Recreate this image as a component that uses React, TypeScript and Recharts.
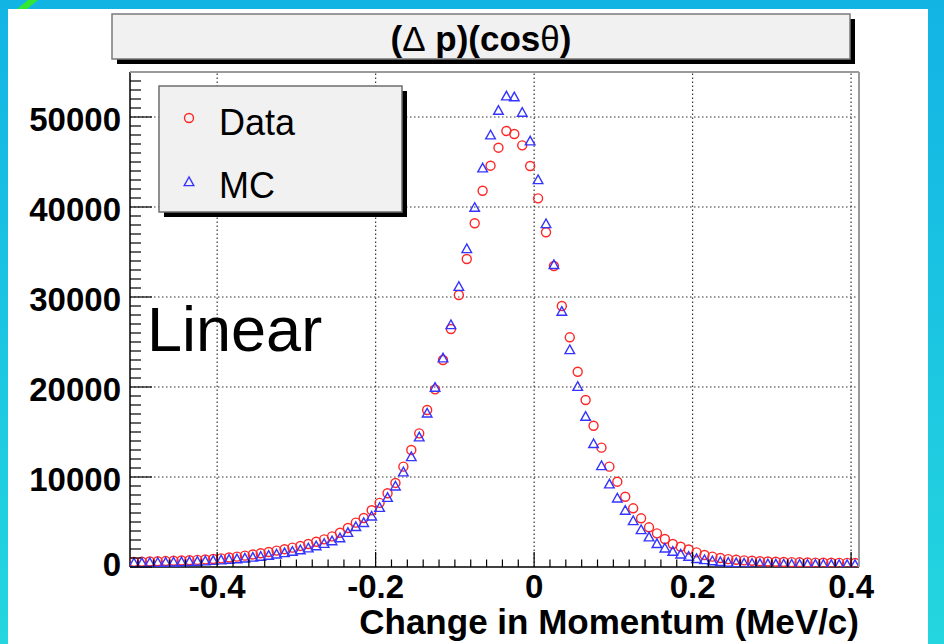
import React from 'react';
import { ScatterChart, Scatter, XAxis, YAxis, ReferenceLine } from 'recharts';

const FONT = '"Liberation Sans", Arial, Helvetica, sans-serif';

// bin centres (MeV/c)
const binCenters = [
  -0.505, -0.495, -0.485, -0.475, -0.465, -0.455, -0.445, -0.435, -0.425, -0.415,
  -0.405, -0.395, -0.385, -0.375, -0.365, -0.355, -0.345, -0.335, -0.325, -0.315,
  -0.305, -0.295, -0.285, -0.275, -0.265, -0.255, -0.245, -0.235, -0.225, -0.215,
  -0.205, -0.195, -0.185, -0.175, -0.165, -0.155, -0.145, -0.135, -0.125, -0.115,
  -0.105, -0.095, -0.085, -0.075, -0.065, -0.055, -0.045, -0.035, -0.025, -0.015,
  -0.005, 0.005, 0.015, 0.025, 0.035, 0.045, 0.055, 0.065, 0.075, 0.085,
  0.095, 0.105, 0.115, 0.125, 0.135, 0.145, 0.155, 0.165, 0.175, 0.185,
  0.195, 0.205, 0.215, 0.225, 0.235, 0.245, 0.255, 0.265, 0.275, 0.285,
  0.295, 0.305, 0.315, 0.325, 0.335, 0.345, 0.355, 0.365, 0.375, 0.385,
  0.395, 0.405,
];

const dataCounts = [
  570, 590, 610, 635, 660, 690, 720, 755, 790, 840,
  890, 960, 1050, 1150, 1260, 1390, 1530, 1670, 1820, 1980,
  2150, 2340, 2560, 2800, 3070, 3400, 3800, 4330, 4930, 5450,
  6300, 7130, 8190, 9340, 11150, 13000, 14850, 17440, 19740, 23000,
  26440, 30220, 34220, 38190, 41810, 44590, 46590, 48440, 48110, 46850,
  44560, 40960, 37190, 33440, 29000, 25520, 21700, 18560, 15700, 13260,
  11150, 9480, 7810, 6520, 5410, 4410, 3740, 3110, 2560, 2250,
  1950, 1620, 1330, 1150, 1000, 880, 800, 740, 690, 640,
  610, 580, 560, 540, 520, 500, 490, 480, 470, 460,
  455, 450,
];

const mcCounts = [
  430, 440, 455, 470, 490, 510, 535, 560, 595, 640,
  690, 750, 810, 880, 960, 1050, 1150, 1260, 1400, 1550,
  1700, 1880, 2080, 2320, 2580, 2870, 3200, 3800, 4450, 4900,
  5620, 6580, 7690, 8960, 10530, 12220, 14410, 17070, 19930, 23190,
  26890, 31140, 35330, 39920, 44300, 47970, 50700, 52300, 52200, 50480,
  47300, 43000, 38110, 33560, 28370, 24110, 20030, 16700, 13670, 11220,
  9190, 7630, 6260, 5110, 4110, 3300, 2560, 2070, 1700, 1400,
  1150, 900, 780, 650, 560, 490, 440, 400, 370, 340,
  320, 300, 290, 280, 270, 260, 255, 250, 245, 240,
  235, 230,
];

const xMajorTicks = [-0.4, -0.2, 0, 0.2, 0.4];
const xMajorLabels = ['-0.4', '-0.2', '0', '0.2', '0.4'];
const yMajorTicks = [0, 10000, 20000, 30000, 40000, 50000];
const yMajorLabels = ['0', '10000', '20000', '30000', '40000', '50000'];

const xMinorTicks: number[] = [];
for (let i = -25; i <= 20; i++) xMinorTicks.push(Math.round(i * 2) / 100);
const yMinorTicks: number[] = [];
for (let i = 0; i <= 55; i++) yMinorTicks.push(i * 1000);

const dataPts = binCenters.map((x, i) => ({ x, y: dataCounts[i] }));
const mcPts = binCenters.map((x, i) => ({ x, y: mcCounts[i] }));

const RED = '#ff2626';
const BLUE = '#3434ff';

const circleShape = (p: any) => (
  <circle cx={p.cx} cy={p.cy} r={4.5} fill="none" stroke={RED} strokeWidth={1.4} />
);
const triShape = (p: any) => (
  <polygon
    points={`${p.cx},${p.cy - 5} ${p.cx - 4.8},${p.cy + 3.6} ${p.cx + 4.8},${p.cy + 3.6}`}
    fill="none"
    stroke={BLUE}
    strokeWidth={1.4}
  />
);

const majorIndex = (arr: number[], v: number) =>
  arr.findIndex((t) => Math.abs(t - v) < 1e-6);

const renderXTick = (props: any) => {
  const { x, y, payload } = props;
  const idx = majorIndex(xMajorTicks, payload.value);
  const major = idx >= 0;
  return (
    <g>
      <line x1={x} x2={x} y1={y} y2={y - (major ? 15 : 7.5)} stroke="#000" strokeWidth={1.2} />
      {major && (
        <text x={x} y={y + 31} textAnchor="middle" fontFamily={FONT} fontWeight="bold" fontSize={33} fill="#000">
          {xMajorLabels[idx]}
        </text>
      )}
    </g>
  );
};

const renderYTick = (props: any) => {
  const { x, y, payload } = props;
  const idx = majorIndex(yMajorTicks, payload.value);
  const major = idx >= 0;
  return (
    <g>
      <line x1={x} x2={x + (major ? 22 : 11)} y1={y} y2={y} stroke="#000" strokeWidth={1.2} />
      {major && (
        <text x={x - 9} y={y + (payload.value === 0 ? 9 : 14)} textAnchor="end" fontFamily={FONT} fontWeight="bold" fontSize={33} fill="#000">
          {yMajorLabels[idx]}
        </text>
      )}
    </g>
  );
};

export default function App() {
  return (
    <div
      style={{
        position: 'absolute',
        left: 0,
        top: 0,
        width: 944,
        height: 644,
        overflow: 'hidden',
        background: 'linear-gradient(to bottom, #12b4e4, #24d6df)',
      }}
    >
      <svg width={944} height={644} style={{ position: 'absolute', left: 0, top: 0 }}>
        <polygon points="17,9 27,9 38,0 28,0" fill="#33e833" />
      </svg>
      <div style={{ position: 'absolute', left: 8, top: 9, width: 920, height: 635, background: '#ffffff' }} />
      <div style={{ position: 'absolute', left: 0, top: 0 }}>
        <ScatterChart width={944} height={644} margin={{ top: 72, right: 85, bottom: 0, left: 0 }}>
          <XAxis
            type="number"
            dataKey="x"
            domain={[-0.51, 0.41]}
            ticks={xMinorTicks}
            interval={0}
            allowDataOverflow
            tickSize={0}
            tickMargin={0}
            tickLine={false}
            tick={renderXTick}
            axisLine={{ stroke: '#000', strokeWidth: 1.5 }}
            height={77}
          />
          <YAxis
            type="number"
            dataKey="y"
            domain={[0, 55000]}
            ticks={yMinorTicks}
            interval={0}
            allowDataOverflow
            tickSize={0}
            tickMargin={0}
            tickLine={false}
            tick={renderYTick}
            axisLine={{ stroke: '#000', strokeWidth: 1.5 }}
            width={130}
          />
          {xMajorTicks.map((v) => (
            <ReferenceLine key={'vx' + v} x={v} stroke="#333" strokeWidth={1.2} strokeDasharray="1.5 2.5" />
          ))}
          {yMajorTicks.slice(1).map((v) => (
            <ReferenceLine key={'hy' + v} y={v} stroke="#333" strokeWidth={1.2} strokeDasharray="1.5 2.5" />
          ))}
          <Scatter name="Data" data={dataPts} shape={circleShape} isAnimationActive={false} />
          <Scatter name="MC" data={mcPts} shape={triShape} isAnimationActive={false} />
        </ScatterChart>
      </div>
      <svg width={944} height={644} style={{ position: 'absolute', left: 0, top: 0, pointerEvents: 'none' }}>
        {/* frame top / right */}
        <line x1={130} x2={859} y1={72} y2={72} stroke="#9a9a9a" strokeWidth={2} />
        <line x1={859} x2={859} y1={72} y2={567} stroke="#9a9a9a" strokeWidth={2} />
        {/* title box */}
        <rect x={117} y={19} width={738} height={45} fill="#000" />
        <rect x={112} y={14} width={738} height={45} fill="#f1f1f1" stroke="#7a7a7a" strokeWidth={1.5} />
        <text x={481} y={51} textAnchor="middle" fontFamily={FONT} fontSize={35} fill="#000">
          <tspan fontWeight="bold">(</tspan>
          <tspan fontWeight="normal">Δ</tspan>
          <tspan fontWeight="bold"> p)(cos</tspan>
          <tspan fontWeight="normal">θ</tspan>
          <tspan fontWeight="bold">)</tspan>
        </text>
        {/* legend */}
        <rect x={164} y={91} width={243} height={126} fill="#000" />
        <rect x={159} y={86} width={243} height={126} fill="#f1f1f1" stroke="#6e6e6e" strokeWidth={1.5} />
        <circle cx={189} cy={118} r={4.5} fill="none" stroke={RED} strokeWidth={1.4} />
        <text x={219} y={135} fontFamily={FONT} fontSize={36} fill="#000">Data</text>
        <polygon points="189,177 184.2,185.6 193.8,185.6" fill="none" stroke={BLUE} strokeWidth={1.4} />
        <text x={219} y={198} fontFamily={FONT} fontSize={36} fill="#000">MC</text>
        {/* annotation */}
        <text x={147} y={351} fontFamily={FONT} fontSize={63} fill="#000">Linear</text>
        {/* axis title */}
        <text x={859} y={634} textAnchor="end" fontFamily={FONT} fontWeight="bold" fontSize={35} fill="#000">
          Change in Momentum (MeV/c)
        </text>
      </svg>
    </div>
  );
}
